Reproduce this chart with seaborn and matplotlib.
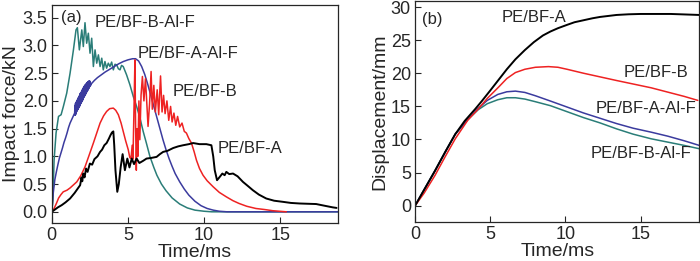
import numpy as np
import pandas as pd
import matplotlib
matplotlib.use('Agg')
import matplotlib.pyplot as plt
import seaborn as sns

# =============================================
# panel (a): impact force vs time
t_A = [0, 0.2, 0.4, 0.65, 0.9, 1.2, 1.5, 1.86, 1.95, 2.0, 2.07, 2.15, 2.25, 2.35, 2.5, 2.65, 2.8,
       3.0, 3.17, 3.3, 3.45, 3.6, 3.75, 3.85, 3.95, 4.04, 4.1, 4.18, 4.3, 4.4, 4.52, 4.65, 4.8,
       4.96, 5.1, 5.25, 5.4, 5.57, 5.75, 6.0, 6.22, 6.5, 6.88, 7.1, 7.31, 7.6, 7.97, 8.3, 8.62,
       9.0, 9.28, 9.7, 10.15, 10.48, 10.6, 10.7, 10.85, 11.0, 11.2, 11.35, 11.46, 11.65, 11.9,
       12.2, 12.55, 12.9, 13.2, 13.6, 14.08, 14.6, 15.17, 15.7, 16.27, 16.8, 17.36, 17.9, 18.45, 18.7]
F_A = [0, 0.04, 0.08, 0.12, 0.17, 0.24, 0.34, 0.48, 0.62, 0.55, 0.69, 0.62, 0.78, 0.72, 0.87, 0.85, 0.95,
       1.00, 1.08, 1.12, 1.20, 1.24, 1.32, 1.38, 1.43, 1.45, 1.2, 0.75, 0.36, 0.5, 0.8, 1.04, 0.75,
       0.96, 0.80, 0.96, 0.86, 0.96, 0.88, 0.92, 0.96, 0.97, 0.99, 1.04, 1.08, 1.10, 1.15, 1.18, 1.20,
       1.22, 1.24, 1.22, 1.22, 1.20, 1.0, 0.75, 0.57, 0.62, 0.69, 0.66, 0.72, 0.68, 0.69,
       0.64, 0.54, 0.46, 0.39, 0.31, 0.24, 0.20, 0.18, 0.16, 0.15, 0.145, 0.14, 0.11, 0.08, 0.07]

t_B = [0, 0.15, 0.3, 0.45, 0.6, 0.75, 1.0, 1.2, 1.4, 1.64, 1.9, 2.18, 2.45, 2.73, 2.95, 3.17, 3.4,
       3.6, 3.8, 4.04, 4.2, 4.37, 4.55, 4.69, 4.85, 5.02, 5.12, 5.2, 5.28, 5.33, 5.4, 5.46, 5.5,
       5.55, 5.6, 5.65, 5.72, 5.78, 5.86, 5.95, 6.05, 6.15, 6.25, 6.32, 6.42, 6.52, 6.6, 6.7, 6.8,
       6.92, 7.02, 7.14, 7.24, 7.34, 7.44, 7.56, 7.68, 7.8, 7.9, 8.02, 8.14, 8.26, 8.4, 8.55, 8.7,
       8.84, 9.0, 9.17, 9.35, 9.5, 9.7, 9.93, 10.2, 10.6, 11.0, 11.46, 11.9, 12.3, 12.8, 13.4, 14.0,
       14.5, 15.4]
F_B = [0, 0.06, 0.15, 0.25, 0.31, 0.36, 0.39, 0.43, 0.48, 0.54, 0.65, 0.81, 1.02, 1.24, 1.42, 1.60, 1.73,
       1.81, 1.86, 1.87, 1.83, 1.75, 1.60, 1.45, 1.28, 1.12, 0.98, 0.96, 1.2, 0.95, 1.9, 2.74, 1.6,
       0.75, 1.5, 1.0, 2.0, 1.3, 2.1, 2.44, 2.0, 2.40, 1.9, 1.54, 1.95, 2.53, 1.85, 2.28, 1.80,
       2.2, 1.75, 2.45, 1.8, 2.1, 1.77, 2.0, 1.65, 1.9, 1.62, 1.78, 1.56, 1.72, 1.53, 1.60, 1.45,
       1.42, 1.32, 1.24, 1.08, 0.93, 0.78, 0.66, 0.56, 0.45, 0.35, 0.27, 0.20, 0.15, 0.10, 0.06, 0.04,
       0.02, 0]

t_AAlF = [0, 0.1, 0.2, 0.3, 0.4, 0.5, 0.6, 0.7, 0.8, 0.9, 1.0, 1.1, 1.2, 1.3, 1.4, 1.5,
          1.52, 1.54, 1.56, 1.58, 1.60, 1.62, 1.64, 1.66, 1.68, 1.70, 1.72, 1.74, 1.76, 1.78,
          1.80, 1.82, 1.84, 1.86, 1.88, 1.90, 1.92, 1.94, 1.96, 1.98, 2.00, 2.02, 2.04, 2.06,
          2.08, 2.10, 2.12, 2.14, 2.16, 2.18, 2.20, 2.22, 2.24, 2.26, 2.28, 2.30, 2.32, 2.34,
          2.36, 2.38, 2.40, 2.42, 2.44, 2.46, 2.48, 2.50, 2.52, 2.55, 2.6,
          2.8, 3.0, 3.2, 3.5, 3.8, 4.1, 4.4, 4.7, 5.0, 5.3, 5.5, 5.7, 5.9, 6.1, 6.3, 6.5, 6.7,
          6.9, 7.1, 7.3, 7.5, 7.7, 7.9, 8.1, 8.4, 8.7, 9.0, 9.4, 9.8, 10.2, 10.6, 11.0, 11.5, 18.8]
F_AAlF = [0, 0.35, 0.58, 0.72, 0.85, 0.97, 1.06, 1.15, 1.25, 1.33, 1.42, 1.52, 1.60, 1.66, 1.72, 1.78,
          1.92, 1.74, 1.96, 1.76, 1.98, 1.80, 2.0, 1.82, 2.02, 1.84, 2.05, 1.86, 2.06, 1.88,
          2.09, 1.90, 2.12, 1.92, 2.14, 1.95, 2.15, 1.97, 2.18, 1.99, 2.2, 2.01, 2.22, 2.03,
          2.24, 2.06, 2.26, 2.08, 2.28, 2.10, 2.29, 2.12, 2.3, 2.14, 2.32, 2.16, 2.33, 2.18,
          2.34, 2.2, 2.35, 2.22, 2.36, 2.24, 2.36, 2.26, 2.35, 2.28, 2.31,
          2.37, 2.42, 2.46, 2.52, 2.57, 2.62, 2.67, 2.71, 2.74, 2.76, 2.76, 2.72, 2.62, 2.48, 2.30, 2.10, 1.90,
          1.70, 1.50, 1.30, 1.12, 0.96, 0.82, 0.69, 0.54, 0.41, 0.30, 0.19, 0.11, 0.06, 0.03, 0.01, 0, 0]

t_BAlF = [0, 0.07, 0.15, 0.28, 0.44, 0.61, 0.76, 0.98, 1.20, 1.42, 1.59, 1.68, 1.81, 1.97, 2.07,
          2.18, 2.29, 2.40, 2.51, 2.62, 2.73, 2.84, 2.95, 3.06, 3.17, 3.28, 3.38, 3.49, 3.60, 3.71,
          3.82, 3.93, 4.04, 4.15, 4.26, 4.37, 4.48, 4.58, 4.69, 4.91, 5.13, 5.35, 5.57, 5.8, 6.0,
          6.2, 6.44, 6.7, 6.9, 7.2, 7.5, 7.9, 8.4, 8.9, 9.4, 10.0, 10.5, 18.8]
F_BAlF = [0, 0.21, 0.93, 1.42, 1.72, 1.75, 1.90, 2.14, 2.50, 2.92, 3.28, 3.32, 2.92, 3.28, 2.98,
          3.41, 3.04, 3.22, 2.86, 3.13, 2.62, 2.92, 2.68, 2.83, 2.62, 2.77, 2.56, 2.71, 2.59, 2.68,
          2.62, 2.70, 2.56, 2.66, 2.65, 2.58, 2.56, 2.64, 2.62, 2.47, 2.29, 2.08, 1.90, 1.68, 1.45,
          1.25, 1.0, 0.80, 0.66, 0.50, 0.38, 0.25, 0.14, 0.07, 0.03, 0.01, 0, 0]

# =============================================
# panel (b): displacement vs time
tb_A = [0, 0.6, 1.33, 2.0, 2.67, 3.3, 4.0, 4.44, 5.0, 5.55, 6.1, 6.67, 7.3, 7.9, 8.5, 9.0, 9.5,
        10.1, 10.6, 11.2, 11.8, 12.3, 13.4, 14.2, 15.0, 17.0, 18.9]
D_A = [0, 2.4, 5.3, 8.1, 10.8, 12.8, 14.6, 15.8, 17.4, 19.0, 20.6, 22.1, 23.5, 24.7, 25.7, 26.3, 26.8,
       27.3, 27.7, 28.0, 28.3, 28.5, 28.8, 28.9, 28.95, 28.95, 28.8]

tb_B = [0, 0.6, 1.33, 2.0, 2.67, 3.5, 4.2, 4.8, 5.55, 6.1, 6.67, 7.3, 8.0, 8.87, 9.5, 10.1, 11.2,
        13.4, 15.7, 17.9, 18.8]
D_B = [0, 1.9, 4.6, 7.4, 10.1, 12.9, 14.6, 16.2, 17.9, 19.2, 20.1, 20.6, 20.9, 21.0, 20.9, 20.6, 20.0,
       18.9, 17.8, 16.5, 15.9]

tb_AAlF = [0, 0.6, 1.33, 2.0, 2.67, 3.5, 4.2, 4.8, 5.5, 6.1, 6.67, 7.3, 8.0, 9.0, 10.1, 11.2, 12.3,
           13.4, 14.5, 15.7, 16.8, 17.9, 18.9]
D_AAlF = [0, 2.4, 5.3, 8.1, 10.8, 13.0, 14.7, 15.9, 16.8, 17.2, 17.3, 17.1, 16.6, 15.8, 14.9, 14.0, 13.2,
          12.4, 11.7, 11.1, 10.5, 9.8, 9.1]

tb_BAlF = [0, 0.6, 1.33, 2.0, 2.67, 3.5, 4.2, 4.8, 5.5, 6.1, 6.67, 7.3, 8.0, 9.0, 10.1, 11.2, 12.3,
           13.4, 14.5, 15.7, 16.8, 17.9, 18.9]
D_BAlF = [0, 2.4, 5.3, 8.1, 10.8, 13.0, 14.5, 15.4, 16.0, 16.3, 16.3, 16.1, 15.7, 15.1, 14.2, 13.3, 12.5,
          11.6, 10.8, 10.1, 9.6, 9.1, 8.6]

names = ['PE/BF-A', 'PE/BF-B', 'PE/BF-A-Al-F', 'PE/BF-B-Al-F']
colors = {'PE/BF-A': '#000000', 'PE/BF-B': '#ee2222', 'PE/BF-A-Al-F': '#3b3b9e', 'PE/BF-B-Al-F': '#2a7d78'}
widths = {'PE/BF-A': 1.4, 'PE/BF-B': 1.1, 'PE/BF-A-Al-F': 1.1, 'PE/BF-B-Al-F': 1.1}

force_df = pd.concat([pd.DataFrame({'t': t, 'y': y, 'sample': n}) for n, t, y in
                      zip(names, [t_A, t_B, t_AAlF, t_BAlF], [F_A, F_B, F_AAlF, F_BAlF])])
disp_df = pd.concat([pd.DataFrame({'t': t, 'y': y, 'sample': n}) for n, t, y in
                     zip(names, [tb_A, tb_B, tb_AAlF, tb_BAlF], [D_A, D_B, D_AAlF, D_BAlF])])

# =============================================
sns.set_style("ticks")
plt.rcParams['font.family'] = ['Liberation Sans', 'DejaVu Sans']

tickFontSize = 13
labelFontSize = 14
textFontSize = 12

fig = plt.figure(figsize=(7, 2.61), dpi=100)
ax1 = fig.add_axes([0.074, 0.146, 0.409, 0.835])
ax2 = fig.add_axes([0.593, 0.151, 0.406, 0.845])

# draw order: Al-F samples first, then B, then A on top
order = ['PE/BF-B-Al-F', 'PE/BF-A-Al-F', 'PE/BF-B', 'PE/BF-A']
for n in order:
    sns.lineplot(data=force_df[force_df['sample'] == n], x='t', y='y', color=colors[n],
                 lw=widths[n], estimator=None, sort=False, ax=ax1)
    sns.lineplot(data=disp_df[disp_df['sample'] == n], x='t', y='y', color=colors[n],
                 lw=widths[n], estimator=None, sort=False, ax=ax2)

ax1.set(xlim=[0, 18.8], ylim=[-0.2, 3.73])
ax1.set_xlabel('Time/ms', fontsize=labelFontSize, labelpad=0)
ax1.set_ylabel('Impact force/kN', fontsize=labelFontSize, labelpad=2)
ax1.set_xticks([0, 5, 10, 15])
ax1.set_yticks(np.arange(0, 3.51, 0.5))
ax1.set_yticklabels(['%.1f' % v for v in np.arange(0, 3.51, 0.5)])

ax2.set(xlim=[0, 18.9], ylim=[-2.4, 30.9])
ax2.set_xlabel('Time/ms', fontsize=labelFontSize, labelpad=0)
ax2.set_ylabel('Displacement/mm', fontsize=labelFontSize, labelpad=2)
ax2.set_xticks([0, 5, 10, 15])
ax2.set_yticks([0, 5, 10, 15, 20, 25, 30])

for ax in (ax1, ax2):
    ax.tick_params(direction='in', length=4, width=0.8, labelsize=tickFontSize, pad=3)
    for s in ax.spines.values():
        s.set_linewidth(0.9)

# curve labels
ax1.text(0.6, 3.5, '(a)', fontsize=textFontSize, va='center')
ax1.text(2.84, 3.42, 'PE/BF-B-Al-F', fontsize=textFontSize, va='center')
ax1.text(5.63, 2.86, 'PE/BF-A-Al-F', fontsize=textFontSize, va='center')
ax1.text(7.93, 2.17, 'PE/BF-B', fontsize=textFontSize, va='center')
ax1.text(10.9, 1.15, 'PE/BF-A', fontsize=textFontSize, va='center')

ax2.text(0.44, 28.1, '(b)', fontsize=textFontSize, va='center')
ax2.text(5.78, 28.4, 'PE/BF-A', fontsize=textFontSize, va='center')
ax2.text(13.9, 20.1, 'PE/BF-B', fontsize=textFontSize, va='center')
ax2.text(12.0, 14.6, 'PE/BF-A-Al-F', fontsize=textFontSize, va='center')
ax2.text(11.7, 7.9, 'PE/BF-B-Al-F', fontsize=textFontSize, va='center')

fig.savefig('out.png', dpi=100)
